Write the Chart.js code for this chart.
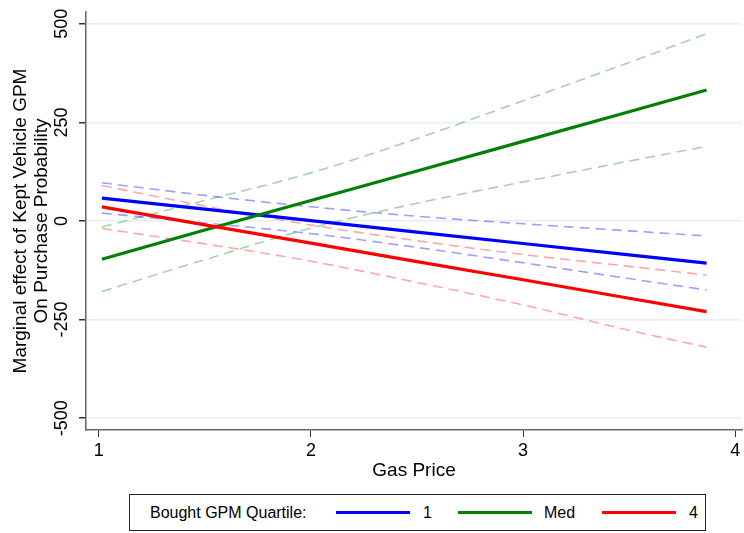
<!DOCTYPE html>
<html>
<head>
<meta charset="utf-8">
<script src="https://cdn.jsdelivr.net/npm/chart.js@4.4.1/dist/chart.umd.min.js"></script>
<style>
  body { margin: 0; background: #fff; }
  #wrap { position: relative; width: 744px; height: 533px; font-family: "Liberation Sans", Arial, sans-serif; }
  #legend { position: absolute; left: 129px; top: 494px; width: 577px; height: 37px; box-sizing: border-box; border: 1px solid #222; background: #fff; }
  #legend span { position: absolute; font-size: 16px; color: #000; top: 50%; transform: translateY(-50%); white-space: nowrap; }
  #legend i { position: absolute; height: 3px; top: 50%; margin-top: -1.5px; }
</style>
</head>
<body>
<div id="wrap">
  <canvas id="marginChart" width="744" height="533"></canvas>
  <div id="legend"></div>
</div>
<script>
// Gas price grid (x) and marginal effects
const GAS_PRICE = [1.015, 1.5, 2.0, 2.5, 3.0, 3.5, 3.865];

const Q1_EFFECT = [58, 30, 1, -28, -57, -86, -107];
const Q1_UPPER = [97, 65, 36, 12, -7, -25, -38];
const Q1_LOWER = [20, -5, -32, -67, -106, -146, -175];

const MED_EFFECT = [-97, -23, 52, 127, 202, 277, 332];
const MED_UPPER = [-15, 52, 122, 209, 305, 402, 475];
const MED_LOWER = [-179, -98, -18, 45, 99, 152, 189];

const Q4_EFFECT = [36, -10, -56, -103, -149, -196, -230];
const Q4_UPPER = [90, 38, -10, -50, -85, -115, -137];
const Q4_LOWER = [-19, -58, -102, -156, -213, -277, -320];

const X_TICKS = [1, 2, 3, 4];
const Y_TICKS = [-500, -250, 0, 250, 500];
const LEGEND_TITLE = 'Bought GPM Quartile:';
const LEGEND_LABELS = ['1', 'Med', '4'];

(function() {
  'use strict';

  const FONT = '"Liberation Sans", Arial, sans-serif';
  const toPoints = arr => GAS_PRICE.map((x, i) => ({ x: x, y: arr[i] }));

  function solid(label, arr, color, order) {
    return { label, data: toPoints(arr), borderColor: color, borderWidth: 3.2,
             pointRadius: 0, tension: 0, order };
  }
  function band(label, arr, color) {
    return { label, data: toPoints(arr), borderColor: color, borderWidth: 1.6,
             borderDash: [10, 6], pointRadius: 0, cubicInterpolationMode: 'monotone', order: 5 };
  }

  // Stata-style rotated y tick labels
  const rotatedYTicks = {
    id: 'rotatedYTicks',
    afterDraw(chart) {
      const ctx = chart.ctx;
      const y = chart.scales.y;
      ctx.save();
      ctx.font = '18px ' + FONT;
      ctx.fillStyle = '#000';
      ctx.textAlign = 'center';
      ctx.textBaseline = 'middle';
      Y_TICKS.forEach(v => {
        ctx.save();
        ctx.translate(62, y.getPixelForValue(v));
        ctx.rotate(-Math.PI / 2);
        ctx.fillText(String(v), 0, 0);
        ctx.restore();
      });
      ctx.restore();
    }
  };

  new Chart(document.getElementById('marginChart'), {
    type: 'line',
    data: {
      datasets: [
        solid('4', Q4_EFFECT, '#ff0000', 0),
        solid('Med', MED_EFFECT, '#008000', 1),
        solid('1', Q1_EFFECT, '#0000ff', 2),
        band('1 upper', Q1_UPPER, 'rgba(0,0,255,0.38)'),
        band('1 lower', Q1_LOWER, 'rgba(0,0,255,0.38)'),
        band('Med upper', MED_UPPER, 'rgba(0,128,0,0.35)'),
        band('Med lower', MED_LOWER, 'rgba(0,128,0,0.35)'),
        band('4 upper', Q4_UPPER, 'rgba(255,0,0,0.35)'),
        band('4 lower', Q4_LOWER, 'rgba(255,0,0,0.35)')
      ]
    },
    options: {
      responsive: false,
      animation: false,
      layout: { padding: { top: 12, right: 2, bottom: 0, left: 0 } },
      plugins: { legend: { display: false }, tooltip: { enabled: false } },
      scales: {
        x: {
          type: 'linear',
          min: 0.94,
          max: 4.032,
          afterBuildTicks: s => { s.ticks = X_TICKS.map(v => ({ value: v })); },
          afterFit: s => { s.height = 103; },
          grid: { display: true, drawOnChartArea: false, drawTicks: true, tickLength: 7, tickColor: '#333' },
          border: { color: '#666', width: 1.5 },
          ticks: { color: '#000', font: { family: FONT, size: 18 }, padding: 3, maxRotation: 0 },
          title: { display: true, text: 'Gas Price', color: '#000',
                   font: { family: FONT, size: 19, lineHeight: 1.1 }, padding: { top: 0, bottom: 51.5 } }
        },
        y: {
          min: -530,
          max: 530,
          afterBuildTicks: s => { s.ticks = Y_TICKS.map(v => ({ value: v })); },
          afterFit: s => { s.width = 86; },
          grid: { color: '#e8eff1', lineWidth: 1.5, tickLength: 7, tickColor: '#333' },
          border: { color: '#666', width: 1.5 },
          ticks: { display: false },
          title: { display: true, text: ['Marginal effect of Kept Vehicle GPM', 'On Purchase Probability'],
                   color: '#000', font: { family: FONT, size: 19, lineHeight: 1.1 }, padding: { top: 10.5, bottom: 0 } }
        }
      }
    },
    plugins: [rotatedYTicks]
  });

  // Boxed legend under the axis
  const legend = document.getElementById('legend');
  const items = [
    { text: LEGEND_TITLE, left: 20 },
    { line: '#0000ff', left: 206, width: 74 },
    { text: LEGEND_LABELS[0], left: 293 },
    { line: '#008000', left: 328, width: 74 },
    { text: LEGEND_LABELS[1], left: 414 },
    { line: '#ff0000', left: 472, width: 74 },
    { text: LEGEND_LABELS[2], left: 559 }
  ];
  items.forEach(it => {
    let el;
    if (it.line) {
      el = document.createElement('i');
      el.style.background = it.line;
      el.style.width = it.width + 'px';
    } else {
      el = document.createElement('span');
      el.textContent = it.text;
    }
    el.style.left = it.left + 'px';
    legend.appendChild(el);
  });
})();
</script>
</body>
</html>
